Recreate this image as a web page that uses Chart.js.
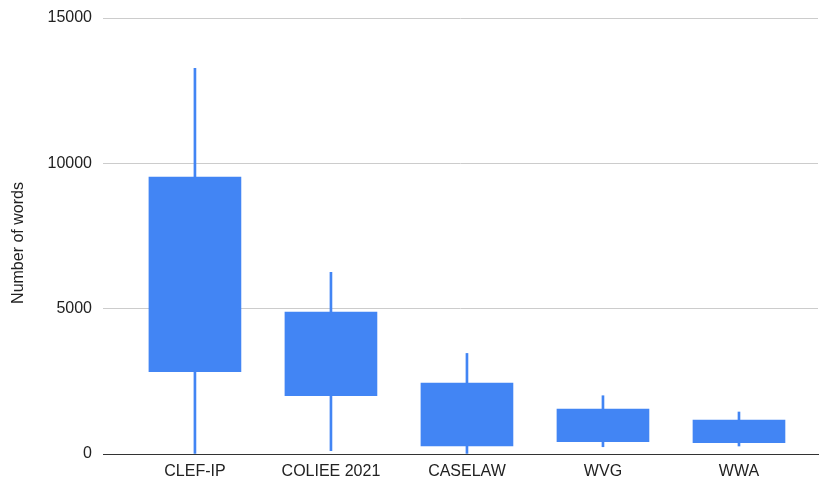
<!DOCTYPE html>
<html>
<head>
<meta charset="utf-8">
<script src="https://cdn.jsdelivr.net/npm/chart.js@4/dist/chart.umd.min.js"></script>
<style>
  html, body { margin: 0; padding: 0; background: #fff; }
  #wrap { width: 819px; height: 480px; }
</style>
</head>
<body>
<div id="wrap"><canvas id="chart" width="819" height="480"></canvas></div>
<script>
const categories = ['CLEF-IP', 'COLIEE 2021', 'CASELAW', 'WVG', 'WWA'];
const whiskerLow = [20, 115, 20, 250, 275];
const boxLow = [2830, 2005, 275, 423, 389];
const boxHigh = [9530, 4885, 2442, 1548, 1170];
const whiskerHigh = [13270, 6250, 3460, 2005, 1445];
const yTicks = [0, 5000, 10000, 15000];
const yTitle = 'Number of words';

const blue = '#4285F4';
const font = { family: 'Liberation Sans, Arial, sans-serif', size: 16 };

const boxes = categories.map((c, i) => ({ x: i, y: [boxLow[i], boxHigh[i]] }));
const whiskers = categories.map((c, i) => ({ x: i, y: [whiskerLow[i], whiskerHigh[i]] }));

// axis title drawn a bit below the middle of the plot, like the original
const yTitlePlugin = {
    id: 'yTitle',
    afterDraw(chart) {
        const ctx = chart.ctx;
        const area = chart.chartArea;
        ctx.save();
        ctx.translate(19, (area.top + area.bottom) / 2 + 7);
        ctx.rotate(-Math.PI / 2);
        ctx.font = '16px ' + font.family;
        ctx.fillStyle = '#222222';
        ctx.textAlign = 'center';
        ctx.textBaseline = 'middle';
        ctx.fillText(yTitle, 0, 0);
        ctx.restore();
    }
};

new Chart(document.getElementById('chart'), {
    type: 'bar',
    data: {
        datasets: [
            {
                label: 'box',
                data: boxes,
                backgroundColor: blue,
                borderWidth: 0,
                barThickness: 92,
                grouped: false,
                order: 1
            },
            {
                label: 'whisker',
                data: whiskers,
                backgroundColor: blue,
                borderWidth: 0,
                barThickness: 2,
                grouped: false,
                order: 2
            }
        ]
    },
    options: {
        responsive: false,
        animation: false,
        layout: { padding: { top: 18, right: 1, bottom: 0, left: 0 } },
        plugins: { legend: { display: false }, tooltip: { enabled: false } },
        scales: {
            x: {
                type: 'linear',
                offset: false,
                min: -0.676,
                max: 4.581,
                afterBuildTicks: axis => { axis.ticks = categories.map((c, i) => ({ value: i })); },
                afterFit: axis => { axis.height = 26; axis.paddingLeft = 0; axis.paddingRight = 0; },
                grid: { display: false, drawTicks: false },
                border: { display: true, color: '#333333', width: 1 },
                ticks: {
                    font: font,
                    color: '#222222',
                    padding: 8,
                    maxRotation: 0,
                    autoSkip: false,
                    callback: v => categories[v]
                }
            },
            y: {
                min: 0,
                max: 15000,
                afterBuildTicks: axis => { axis.ticks = yTicks.map(v => ({ value: v })); },
                afterFit: axis => { axis.width = 103; axis.paddingTop = 0; axis.paddingBottom = 0; },
                grid: { color: '#cccccc', drawTicks: false },
                border: { display: false },
                ticks: { font: font, color: '#222222', padding: 11, callback: v => String(v) }
            }
        }
    },
    plugins: [yTitlePlugin]
});
</script>
</body>
</html>
